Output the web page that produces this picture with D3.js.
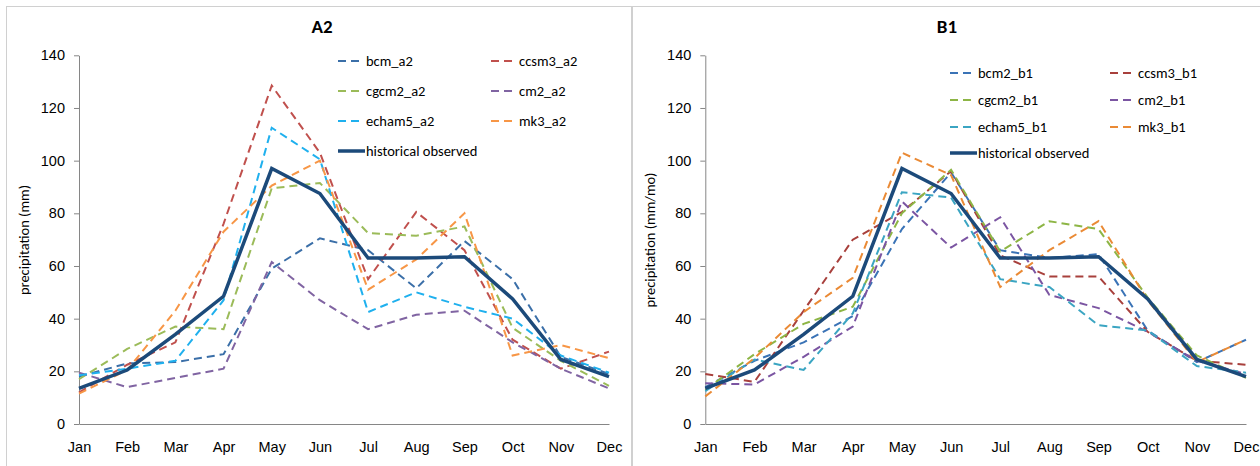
<!DOCTYPE html>
<html>
<head>
<meta charset="utf-8">
<script src="https://cdn.jsdelivr.net/npm/d3@7"></script>
<style>
  body { margin: 0; background: #fff; }
  svg { display: block; font-family: Carlito, Calibri, Lato, sans-serif; }
  .tick text { fill: #000; font-size: 14.5px; }
  .domain, .tick line { stroke: #868686; }
</style>
</head>
<body>
<div class="board"></div>
<script>
var months = ['Jan', 'Feb', 'Mar', 'Apr', 'May', 'Jun', 'Jul', 'Aug', 'Sep', 'Oct', 'Nov', 'Dec'];
var yTicks = [0, 20, 40, 60, 80, 100, 120, 140];

var historical = [13.5, 20.5, 34, 48.5, 97, 87.5, 63, 63, 63.5, 47.5, 24.5, 18];

var namesA2 = ['bcm_a2', 'ccsm3_a2', 'cgcm2_a2', 'cm2_a2', 'echam5_a2', 'mk3_a2'];
var bcm_a2 = [18, 23, 23.5, 26.5, 59, 70.5, 66, 51.5, 69.5, 55, 25.5, 19];
var ccsm3_a2 = [12, 22.5, 31, 76, 128.5, 103, 55, 80.5, 66, 32, 21, 27.5];
var cgcm2_a2 = [17, 28.5, 37, 36, 89.5, 91.5, 72.5, 71.5, 75, 36.5, 24, 14.5];
var cm2_a2 = [19.5, 14, 17.5, 21, 61.5, 47, 36, 41.5, 43, 31, 21, 13.5];
var echam5_a2 = [18.5, 21, 24, 47, 112.5, 100.5, 42.5, 50, 44.5, 40, 26, 19.5];
var mk3_a2 = [11.5, 20.5, 43, 73, 90.5, 100, 51, 62.5, 80, 26, 30, 25];

var namesB1 = ['bcm2_b1', 'ccsm3_b1', 'cgcm2_b1', 'cm2_b1', 'echam5_b1', 'mk3_b1'];
var bcm2_b1 = [14, 24, 31, 41, 74, 95.5, 66, 63, 64.5, 35.5, 23.5, 32];
var ccsm3_b1 = [19, 16, 43, 70, 80.5, 96, 64, 56, 56, 35, 24, 22.5];
var cgcm2_b1 = [13, 26.5, 38, 44.5, 80, 96.5, 65.5, 77, 74, 48, 26, 17.5];
var cm2_b1 = [15.5, 15, 25.5, 37, 84.5, 67, 78.5, 49, 44, 35, 24, 19];
var echam5_b1 = [12.5, 24.5, 20.5, 42, 88, 86, 55, 52, 37.5, 35.5, 22, 19.5];
var mk3_b1 = [10.5, 25, 42.5, 55.5, 103, 94.5, 52, 66, 77, 47, 23.5, 32];

var colorsA2 = ['#3b6fa8', '#c0504d', '#9bbb59', '#8064a2', '#1fb0ee', '#f79646'];
var colorsB1 = ['#3a73b6', '#a8403c', '#8db545', '#7b55a2', '#3ba5c2', '#ea8a35'];
var histColor = '#1c4a7a';

var svg = d3.select('.board').append('svg')
  .attr('width', 1260)
  .attr('height', 466);

// panel borders
svg.append('rect').attr('x', 6.5).attr('y', 6.5).attr('width', 625).attr('height', 480)
  .attr('fill', 'none').attr('stroke', '#d0d0d0');
svg.append('rect').attr('x', 632.5).attr('y', 6.5).attr('width', 640).attr('height', 480)
  .attr('fill', 'none').attr('stroke', '#d0d0d0');

var drawPanel = function(p) {
  var x = d3.scalePoint().domain(months).range([p.x0, p.x1]);
  var y = d3.scaleLinear().domain([0, 140]).range([424, 55.3]);

  var g = svg.append('g');

  g.append('g')
    .attr('transform', 'translate(0,424)')
    .call(d3.axisBottom(x).tickSize(0).tickPadding(18));

  g.append('g')
    .attr('transform', 'translate(' + p.x0 + ',0)')
    .call(d3.axisLeft(y).tickValues(yTicks).tickSize(5).tickPadding(9).tickSizeOuter(0));

  g.selectAll('.domain').attr('stroke', '#868686');

  g.append('text')
    .attr('transform', 'translate(' + p.yTitleX + ',240) rotate(-90)')
    .attr('text-anchor', 'middle')
    .attr('font-size', '14.5px')
    .text(p.yTitle);

  g.append('text')
    .attr('x', p.titleX).attr('y', 33)
    .attr('text-anchor', 'middle')
    .attr('font-size', '19px')
    .attr('font-weight', 'bold')
    .text(p.title);

  var line = d3.line()
    .x(function(d, i) { return x(months[i]); })
    .y(function(d) { return y(d); });

  p.series.forEach(function(s, i) {
    g.append('path')
      .attr('d', line(s))
      .attr('fill', 'none')
      .attr('stroke', p.colors[i])
      .attr('stroke-width', 2)
      .attr('stroke-dasharray', '8,5');
  });

  g.append('path')
    .attr('d', line(historical))
    .attr('fill', 'none')
    .attr('stroke', histColor)
    .attr('stroke-width', 3.5)
    .attr('stroke-linejoin', 'miter');

  // legend
  var items = p.names.map(function(n, i) {
    return {name: n, color: p.colors[i], dash: true, col: i % 2, row: Math.floor(i / 2)};
  });
  items.push({name: 'historical observed', color: histColor, dash: false, col: 0, row: 3});

  var leg = g.selectAll('.leg').data(items).enter().append('g')
    .attr('transform', function(d) {
      return 'translate(' + p.legX[d.col] + ',' + p.legY[d.row] + ')';
    });

  leg.append('line')
    .attr('x1', 0).attr('x2', function(d) { return d.dash ? 23 : 27; })
    .attr('stroke', function(d) { return d.color; })
    .attr('stroke-width', function(d) { return d.dash ? 2 : 3.5; })
    .attr('stroke-dasharray', function(d) { return d.dash ? '8,5' : null; });

  leg.append('text')
    .attr('x', 28)
    .attr('dy', '0.35em')
    .attr('font-size', '14.5px')
    .text(function(d) { return d.name; });
};

drawPanel({
  x0: 79, x1: 609, title: 'A2', titleX: 322, yTitle: 'precipitation (mm)', yTitleX: 29,
  names: namesA2, colors: colorsA2,
  series: [bcm_a2, ccsm3_a2, cgcm2_a2, cm2_a2, echam5_a2, mk3_a2],
  legX: [338, 491], legY: [61, 91, 121, 151]
});

drawPanel({
  x0: 705.3, x1: 1246, title: 'B1', titleX: 947, yTitle: 'precipitation (mm/mo)', yTitleX: 655,
  names: namesB1, colors: colorsB1,
  series: [bcm2_b1, ccsm3_b1, cgcm2_b1, cm2_b1, echam5_b1, mk3_b1],
  legX: [950, 1110], legY: [73, 100, 127, 153]
});
</script>
</body>
</html>
